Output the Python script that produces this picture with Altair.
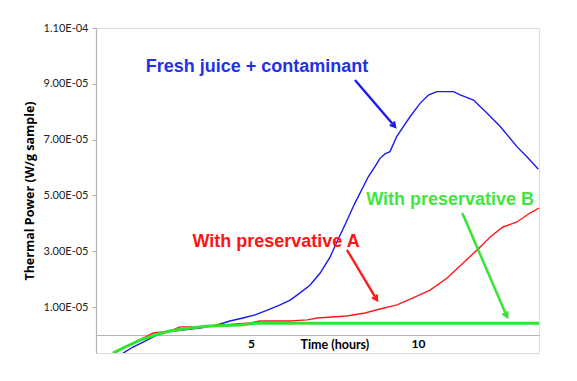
import altair as alt
import pandas as pd

# values in units of 1E-05 W/g sample, time in hours
blue_t = [1.17,1.47,1.89,2.19,2.49,2.96,3.47,3.98,4.37,4.76,5.12,5.51,5.87,6.17,6.47,6.77,7.07,7.37,7.57,7.81,8.10,8.51,8.71,8.86,9.01,9.16,9.36,9.56,9.76,10.06,10.31,10.56,11.06,11.26,11.66,12.06,12.46,12.96,13.30,13.60]
blue_v = [-0.65,-0.43,-0.18,0.0,0.11,0.18,0.25,0.36,0.50,0.61,0.72,0.90,1.08,1.25,1.51,1.79,2.22,2.80,3.33,3.94,4.70,5.67,6.03,6.33,6.49,6.57,7.11,7.47,7.82,8.30,8.60,8.72,8.72,8.60,8.42,7.95,7.47,6.75,6.33,5.94]

red_t = [0.87,1.17,1.47,1.77,2.07,2.37,2.66,2.87,3.47,4.16,4.97,5.27,6.17,6.68,6.98,7.87,8.41,8.86,9.37,9.85,10.36,10.87,11.35,11.77,12.16,12.54,12.96,13.35,13.62]
red_v = [-0.65,-0.47,-0.29,-0.11,0.07,0.11,0.18,0.29,0.29,0.36,0.43,0.50,0.50,0.54,0.61,0.68,0.79,0.93,1.08,1.33,1.61,2.04,2.58,3.05,3.51,3.87,4.05,4.37,4.55]

green_t = [0.87,1.23,1.68,2.13,2.57,3.17,3.77,4.67,5.12,13.62]
green_v = [-0.65,-0.43,-0.18,0.0,0.14,0.25,0.32,0.36,0.42,0.42]

series_names = ["Fresh juice + contaminant", "With preservative A", "With preservative B"]
line_colors = ["#1a1af0", "#ff1a1a", "#2ee62e"]
text_colors = ["#1f33e6", "#ff1414", "#40e640"]

# annotation labels (time, value)
label_t = [5.18, 5.75, 10.96]
label_v = [9.61, 3.33, 4.84]

# arrows: start -> end
arrow_t1 = [8.11, 7.87, 11.32]
arrow_v1 = [9.14, 3.05, 4.37]
arrow_t2 = [9.31, 8.77, 12.66]
arrow_v2 = [7.46, 1.25, 0.65]
arrow_angle = [139.6, 149.0, 156.6]

x_ticks = [5, 10]
y_ticks = [1, 3, 5, 7, 9, 11]

X_DOM = [0.36, 13.62]
Y_DOM = [-0.645, 11.0]

rows = []
for name, ts, vs in zip(series_names, [blue_t, red_t, green_t], [blue_v, red_v, green_v]):
    for i, (t, v) in enumerate(zip(ts, vs)):
        rows.append({"series": name, "t": t, "v": v, "o": i})
df = pd.DataFrame(rows)

xs = alt.Scale(domain=X_DOM, nice=False, zero=False)
ys = alt.Scale(domain=Y_DOM, nice=False, zero=False)

x_enc = alt.X("t:Q", scale=xs, axis=alt.Axis(
    values=x_ticks, title=None, offset=-18, ticks=False, grid=False,
    domainColor="#b4b4b4", domainWidth=1.2,
    labelFont="Lato", labelFontSize=12, labelFontWeight="bold", labelColor="#000000",
    labelPadding=3))
y_enc = alt.Y("v:Q", scale=ys, axis=alt.Axis(
    values=y_ticks, grid=False, title="Thermal Power (W/g sample)",
    titleFont="Open Sans", titleFontSize=12.5, titleFontWeight="bold", titleColor="#000000",
    titlePadding=7,
    labelExpr="datum.value >= 10 ? format(datum.value/10, '.2f') + 'E-04' : format(datum.value, '.2f') + 'E-05'",
    labelFont="Lato", labelFontSize=11, labelColor="#222222", labelPadding=4,
    tickSize=4, tickColor="#b4b4b4", domainColor="#b4b4b4", domainWidth=1.2))

def line_layer(name, color, width):
    return alt.Chart(df[df.series == name]).mark_line(
        color=color, strokeWidth=width, clip=True
    ).encode(x=x_enc, y=y_enc, order="o:Q")

blue = line_layer(series_names[0], line_colors[0], 1.4)
red = line_layer(series_names[1], line_colors[1], 1.4)
green = line_layer(series_names[2], line_colors[2], 3)

ann = pd.DataFrame({"name": series_names, "t": label_t, "v": label_v, "c": text_colors})
labels = alt.Chart(ann).mark_text(font="Liberation Sans", fontSize=18, fontWeight="bold").encode(
    x=alt.X("t:Q", scale=xs), y=alt.Y("v:Q", scale=ys), text="name:N",
    color=alt.Color("c:N", scale=None))

arr = pd.DataFrame({"t1": arrow_t1, "v1": arrow_v1, "t2": arrow_t2, "v2": arrow_v2,
                    "a": arrow_angle, "c": line_colors})
shadow = alt.Chart(arr).mark_rule(strokeWidth=2.5, color="#000000", opacity=0.15, xOffset=2, yOffset=2, x2Offset=2, y2Offset=2).encode(
    x=alt.X("t1:Q", scale=xs), y=alt.Y("v1:Q", scale=ys), x2="t2:Q", y2="v2:Q")
shafts = alt.Chart(arr).mark_rule(strokeWidth=2.2).encode(
    x=alt.X("t1:Q", scale=xs), y=alt.Y("v1:Q", scale=ys), x2="t2:Q", y2="v2:Q",
    color=alt.Color("c:N", scale=None))
heads = alt.Chart(arr).mark_point(
    shape="M-0.55,0.9L0,0L0.55,0.9", filled=False, size=110, strokeWidth=2.2, opacity=1
).encode(x=alt.X("t2:Q", scale=xs), y=alt.Y("v2:Q", scale=ys),
         angle=alt.Angle("a:Q", scale=None), color=alt.Color("c:N", scale=None))

xt = pd.DataFrame({"t": [7.51], "v": [-0.36], "s": ["Time (hours)"]})
xtitle = alt.Chart(xt).mark_text(font="Lato", fontSize=12.5, fontWeight="bold", color="#000000").encode(
    x=alt.X("t:Q", scale=xs), y=alt.Y("v:Q", scale=ys), text="s:N")

chart = alt.layer(blue, red, green, shadow, shafts, heads, labels, xtitle).properties(
    width=443, height=325,
    autosize=alt.AutoSizeParams(type="none"),
    padding={"left": 88, "top": 20, "right": 30, "bottom": 20},
).configure_view(stroke=None).configure(background="#ffffff")

chart.save("out.html", embed_options={"renderer": "svg", "actions": False})
